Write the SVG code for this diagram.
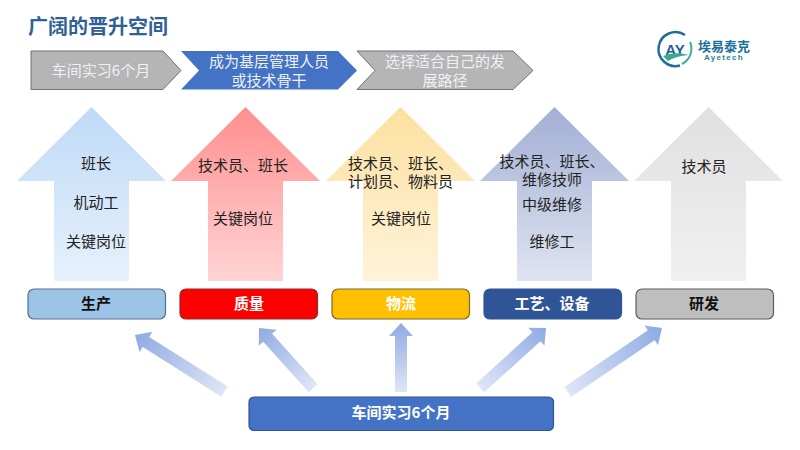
<svg xmlns="http://www.w3.org/2000/svg" width="800" height="450" viewBox="0 0 800 450">
<style>
text{font-family:"Noto Sans CJK SC","Liberation Sans",sans-serif;text-anchor:middle}
.t{font-size:15px;fill:#222}
.b{font-size:15px;font-weight:700}
.p{font-size:15px;fill:#eef1f6}
.g{fill:#b5b5b5;stroke:#6d7178;stroke-width:1}
.btn{stroke-width:1.2}
</style>
<defs>
<linearGradient id="g1" x1="0" y1="0" x2="0" y2="1"><stop offset="0" stop-color="#bfdaf7"/><stop offset="1" stop-color="#e6f1fc"/></linearGradient>
<linearGradient id="g2" x1="0" y1="0" x2="0" y2="1"><stop offset="0" stop-color="#ff8e8e"/><stop offset="1" stop-color="#ffd4d4"/></linearGradient>
<linearGradient id="g3" x1="0" y1="0" x2="0" y2="1"><stop offset="0" stop-color="#fde0a0"/><stop offset="1" stop-color="#fef3da"/></linearGradient>
<linearGradient id="g4" x1="0" y1="0" x2="0" y2="1"><stop offset="0" stop-color="#a2afd4"/><stop offset="1" stop-color="#dfe4f1"/></linearGradient>
<linearGradient id="g5" x1="0" y1="0" x2="0" y2="1"><stop offset="0" stop-color="#e0e0e0"/><stop offset="1" stop-color="#f0f0f0"/></linearGradient>
<linearGradient id="s" x1="0" y1="0" x2="0" y2="1"><stop offset="0" stop-color="#8faae3"/><stop offset="1" stop-color="#dfe6f6"/></linearGradient>
<polygon id="big" points="0,0 74.500,74 37.500,74 37.500,174 -37.500,174 -37.500,74 -74.500,74"/>
</defs>
<rect width="800" height="450" fill="#fff"/>
<text x="98" y="34" fill="#2f6096" style="font-size:20px;font-weight:700">广阔的晋升空间</text>

<g id="step1"><polygon class="g" points="31,51 163,51 181,70.500 163,89.500 31,89.500"/><text class="p" x="101" y="76">车间实习6个月</text></g>
<g id="step2"><polygon fill="#4472c4" points="181,51 338,51 357,70.500 338,89.500 181,89.500 199,70.500"/><text class="p"><tspan x="269" y="67">成为基层管理人员</tspan><tspan x="269" y="86">或技术骨干</tspan></text></g>
<g id="step3"><polygon class="g" points="357,51 513,51 533,70.500 513,89.500 357,89.500 375,70.500"/><text class="p"><tspan x="445" y="67">选择适合自己的发</tspan><tspan x="445" y="86">展路径</tspan></text></g>

<g id="logo">
<path d="M685,35 A17,17 0 1,0 680,65.500" fill="none" stroke="#1c6f9c" stroke-width="2.500"/>
<path d="M690,42 A17,17 0 0,1 682,64" fill="none" stroke="#3fb28f" stroke-width="2"/>
<text x="675" y="55" fill="#1f5f9e" style="font-family:'Liberation Sans',sans-serif;font-size:15px;font-weight:700">AY</text>
<path d="M663,56 Q675,51 689,55 Q676,56 668,61 Z" fill="#3aa98e"/>
<text fill="#1c6f9c" style="font-size:13px;font-weight:700"><tspan x="724" y="51">埃易泰克</tspan><tspan x="724" y="60" fill="#2a7f8f" style="font-family:'Liberation Sans',sans-serif;font-size:8px;letter-spacing:1.300px">Ayetech</tspan></text>
</g>

<g id="connectors">
<polygon fill="url(#s)" transform="translate(135,335) rotate(-57.700)" points="0,0 12,13 6,13 6,106 -6,106 -6,13 -12,13"/>
<polygon fill="url(#s)" transform="translate(259,328) rotate(-42)" points="0,0 12,13 6,13 6,81 -6,81 -6,13 -12,13"/>
<polygon fill="url(#s)" transform="translate(401,323)" points="0,0 12,13 6,13 6,69 -6,69 -6,13 -12,13"/>
<polygon fill="url(#s)" transform="translate(546,328) rotate(47.700)" points="0,0 12,13 6,13 6,89 -6,89 -6,13 -12,13"/>
<polygon fill="url(#s)" transform="translate(662,328) rotate(55.800)" points="0,0 12,13 6,13 6,114 -6,114 -6,13 -12,13"/>
</g>

<g id="arrow1"><use href="#big" x="91.500" y="107" fill="url(#g1)"/><text class="t" x="96" y="169">班长</text><text class="t" x="96" y="208">机动工</text><text class="t" x="96" y="247">关键岗位</text></g>
<g id="arrow2"><use href="#big" x="245.500" y="107" fill="url(#g2)"/><text class="t" x="243" y="171">技术员、班长</text><text class="t" x="243" y="224">关键岗位</text></g>
<g id="arrow3"><use href="#big" x="400.500" y="107" fill="url(#g3)"/><text class="t"><tspan x="400.500" y="169">技术员、班长、</tspan><tspan x="400.500" y="187">计划员、物料员</tspan></text><text class="t" x="401" y="224">关键岗位</text></g>
<g id="arrow4"><use href="#big" x="554.500" y="107" fill="url(#g4)"/><text class="t"><tspan x="552" y="167">技术员、班长、</tspan><tspan x="552" y="185">维修技师</tspan></text><text class="t" x="552" y="210">中级维修</text><text class="t" x="552" y="247">维修工</text></g>
<g id="arrow5"><use href="#big" x="708.500" y="107" fill="url(#g5)"/><text class="t" x="704" y="172">技术员</text></g>

<g id="n-prod"><rect class="btn" x="28" y="289" width="137.500" height="30" rx="6" fill="#9dc3e6" stroke="#527093"/><text class="b" x="96" y="309" fill="#111">生产</text></g>
<g id="n-qual"><rect class="btn" x="180" y="289" width="137.500" height="30" rx="6" fill="#ff0000" stroke="#8a2a2a"/><text class="b" x="249" y="309" fill="#fff">质量</text></g>
<g id="n-log"><rect class="btn" x="332" y="289" width="137.500" height="30" rx="6" fill="#ffc000" stroke="#7d6a2a"/><text class="b" x="401" y="309" fill="#fff">物流</text></g>
<g id="n-proc"><rect class="btn" x="484" y="289" width="137.500" height="30" rx="6" fill="#2f5597" stroke="#2f5597"/><text class="b" x="552" y="309" fill="#fff">工艺、设备</text></g>
<g id="n-rd"><rect class="btn" x="636" y="289" width="137.500" height="30" rx="6" fill="#bfbfbf" stroke="#56606c"/><text class="b" x="704" y="309" fill="#111">研发</text></g>
<g id="n-base"><rect x="249" y="397" width="304.500" height="33.500" rx="5" fill="#4472c4" stroke="#2f5597" stroke-width="1.200"/><text class="b" x="401" y="418" fill="#fff">车间实习6个月</text></g>
</svg>
